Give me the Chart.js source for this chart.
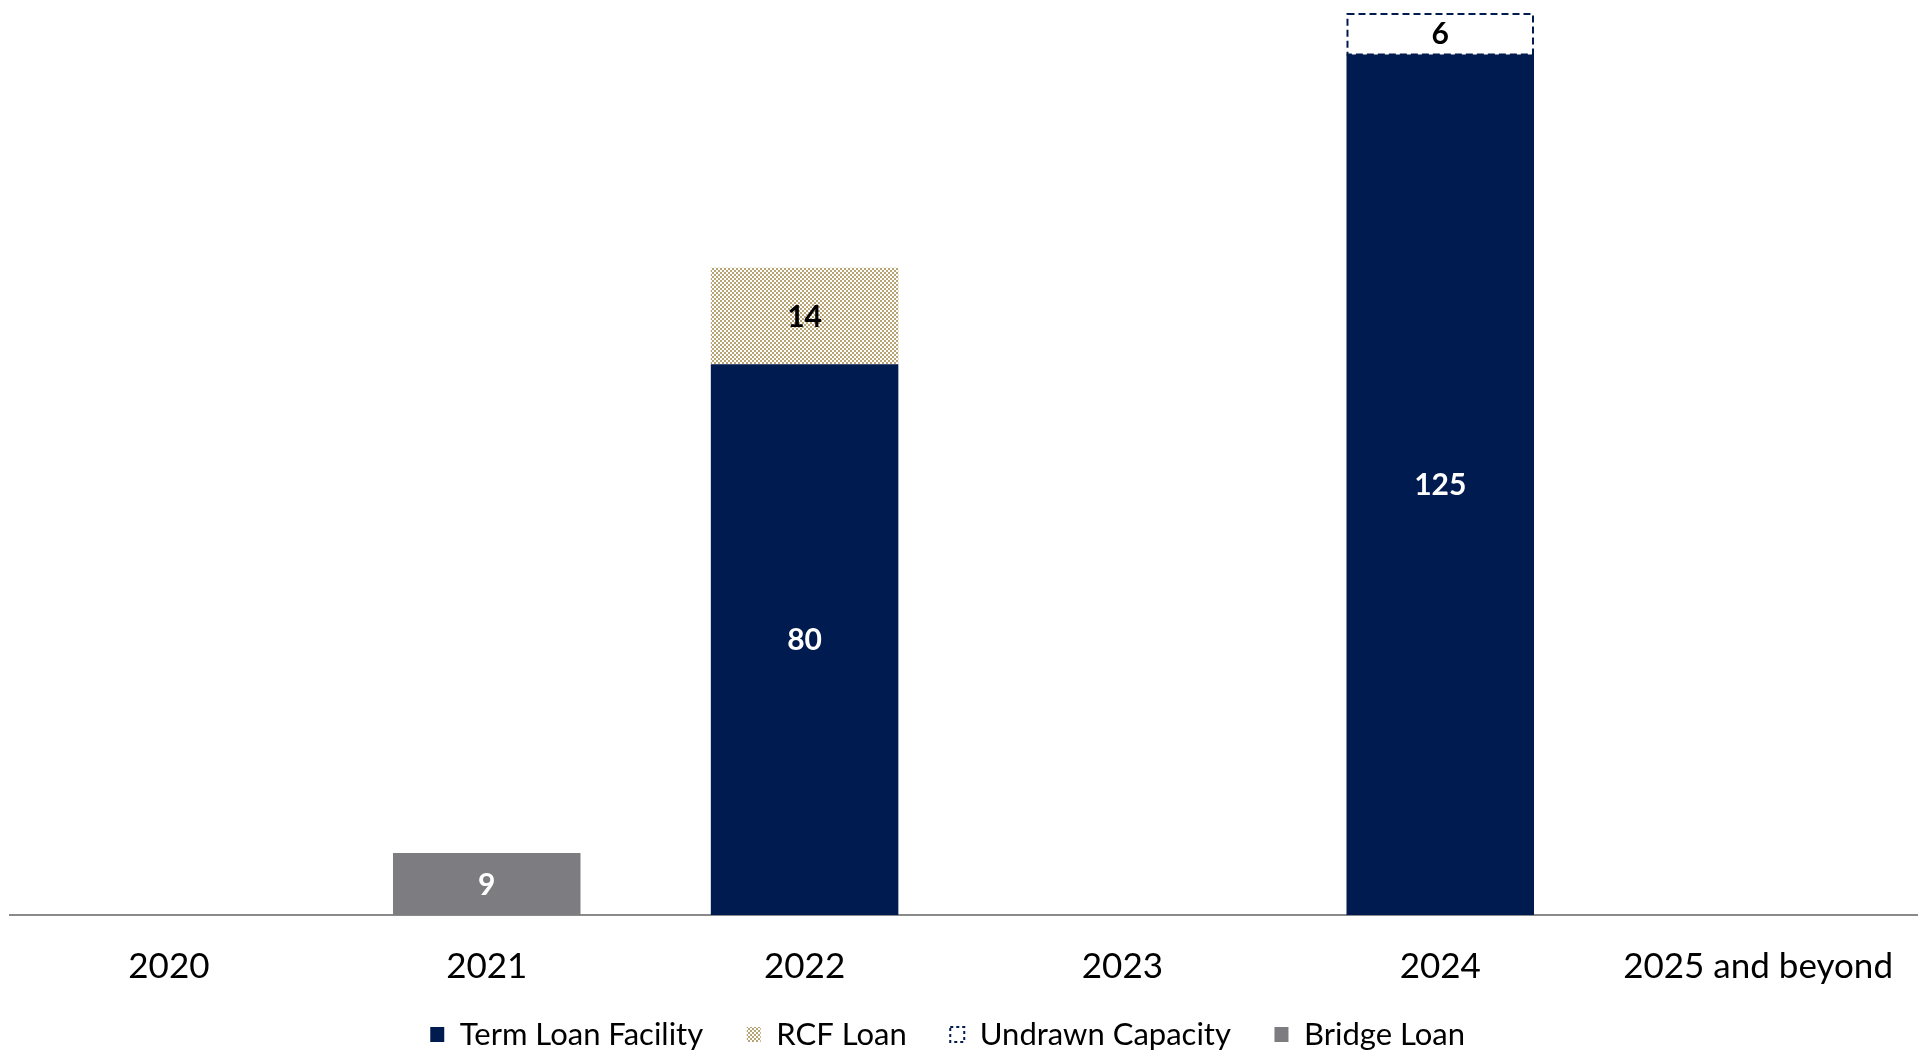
<!DOCTYPE html>
<html>
<head>
<meta charset="utf-8">
<script src="https://cdn.jsdelivr.net/npm/chart.js@4.4.1/dist/chart.umd.min.js"></script>
<style>
  html, body { margin: 0; padding: 0; background: #ffffff; }
  #wrap { width: 1925px; height: 1051px; }
</style>
</head>
<body>
<div id="wrap"><canvas id="c" width="1925" height="1051"></canvas></div>
<script>
const categories = ['2020', '2021', '2022', '2023', '2024', '2025 and beyond'];
const termLoan   = [null, null, 80, null, 125, null];
const rcfLoan    = [null, null, 14, null, null, null];
const undrawn    = [null, null, null, null, 6, null];
const bridgeLoan = [null, 9, null, null, null, null];
const seriesNames = ['Term Loan Facility', 'RCF Loan', 'Undrawn Capacity', 'Bridge Loan'];

const NAVY = '#001b4f';
const GRAY = '#7d7d81';
const TAN  = '#b9a475';
const FONT = 'Lato, "Noto Sans", sans-serif';

function makePattern() {
  const p = document.createElement('canvas');
  p.width = 4; p.height = 4;
  const g = p.getContext('2d');
  g.fillStyle = '#ffffff'; g.fillRect(0, 0, 4, 4);
  g.fillStyle = TAN;
  g.fillRect(0, 0, 2, 2);
  g.fillRect(2, 2, 2, 2);
  return document.getElementById('c').getContext('2d').createPattern(p, 'repeat');
}
const rcfPattern = makePattern();

const labelColors = ['#ffffff', '#000000', '#000000', '#ffffff'];

const dashedBorderPlugin = {
  id: 'dashedBorder',
  afterDatasetsDraw(chart) {
    const ctx = chart.ctx;
    const meta = chart.getDatasetMeta(2);
    meta.data.forEach((el, i) => {
      if (undrawn[i] == null) return;
      const p = el.getProps(['x', 'y', 'base', 'width'], true);
      const left = p.x - p.width / 2, top = Math.min(p.y, p.base), h = Math.abs(p.base - p.y);
      ctx.save();
      ctx.strokeStyle = NAVY;
      ctx.lineWidth = 2;
      ctx.setLineDash([7, 4]);
      ctx.strokeRect(left + 1, top + 1, p.width - 2, h - 1);
      ctx.restore();
    });
  }
};

const valueLabelPlugin = {
  id: 'valueLabels',
  afterDatasetsDraw(chart) {
    const ctx = chart.ctx;
    chart.data.datasets.forEach((ds, di) => {
      const meta = chart.getDatasetMeta(di);
      meta.data.forEach((el, i) => {
        const v = ds.data[i];
        if (v == null) return;
        const p = el.getProps(['x', 'y', 'base'], true);
        ctx.save();
        ctx.fillStyle = labelColors[di];
        ctx.font = 'bold 30px ' + FONT;
        ctx.textAlign = 'center';
        ctx.textBaseline = 'middle';
        ctx.fillText(String(v), p.x, (p.y + p.base) / 2 + 1);
        ctx.restore();
      });
    });
  }
};

new Chart(document.getElementById('c'), {
  type: 'bar',
  data: {
    labels: categories,
    datasets: [
      { label: seriesNames[0], data: termLoan, backgroundColor: NAVY, stack: 's' },
      { label: seriesNames[1], data: rcfLoan, backgroundColor: rcfPattern, stack: 's' },
      { label: seriesNames[2], data: undrawn, backgroundColor: '#ffffff', stack: 's' },
      { label: seriesNames[3], data: bridgeLoan, backgroundColor: GRAY, stack: 's' }
    ]
  },
  options: {
    responsive: false,
    animation: false,
    devicePixelRatio: 1,
    layout: { padding: { left: 10, right: 8, top: 0, bottom: -9 } },
    datasets: { bar: { categoryPercentage: 1, barPercentage: 0.59, borderWidth: 0 } },
    scales: {
      x: {
        stacked: true,
        grid: { display: false, drawTicks: false },
        border: { display: true, color: '#8a8a8a', width: 2 },
        ticks: { color: '#000000', font: { family: FONT, size: 35 }, padding: 31, maxRotation: 0 }
      },
      y: {
        stacked: true,
        display: false,
        min: 0,
        max: 132.9
      }
    },
    plugins: {
      tooltip: { enabled: false },
      legend: {
        position: 'bottom',
        labels: {
          color: '#1a1a1a',
          font: { family: FONT, size: 31 },
          boxWidth: 14,
          boxHeight: 15,
          padding: 0,
          generateLabels(chart) {
            return chart.data.datasets.map((ds, i) => ({
              text: ds.label + (i < 3 ? '     \u2009' : '    '),
              fillStyle: i === 0 ? NAVY : i === 1 ? rcfPattern : i === 2 ? '#ffffff' : GRAY,
              strokeStyle: i === 2 ? NAVY : 'rgba(0,0,0,0)',
              lineWidth: i === 2 ? 2 : 0,
              lineDash: i === 2 ? [3, 3] : [],
              hidden: false,
              datasetIndex: i
            }));
          }
        }
      }
    }
  },
  plugins: [dashedBorderPlugin, valueLabelPlugin]
});
</script>
</body>
</html>
